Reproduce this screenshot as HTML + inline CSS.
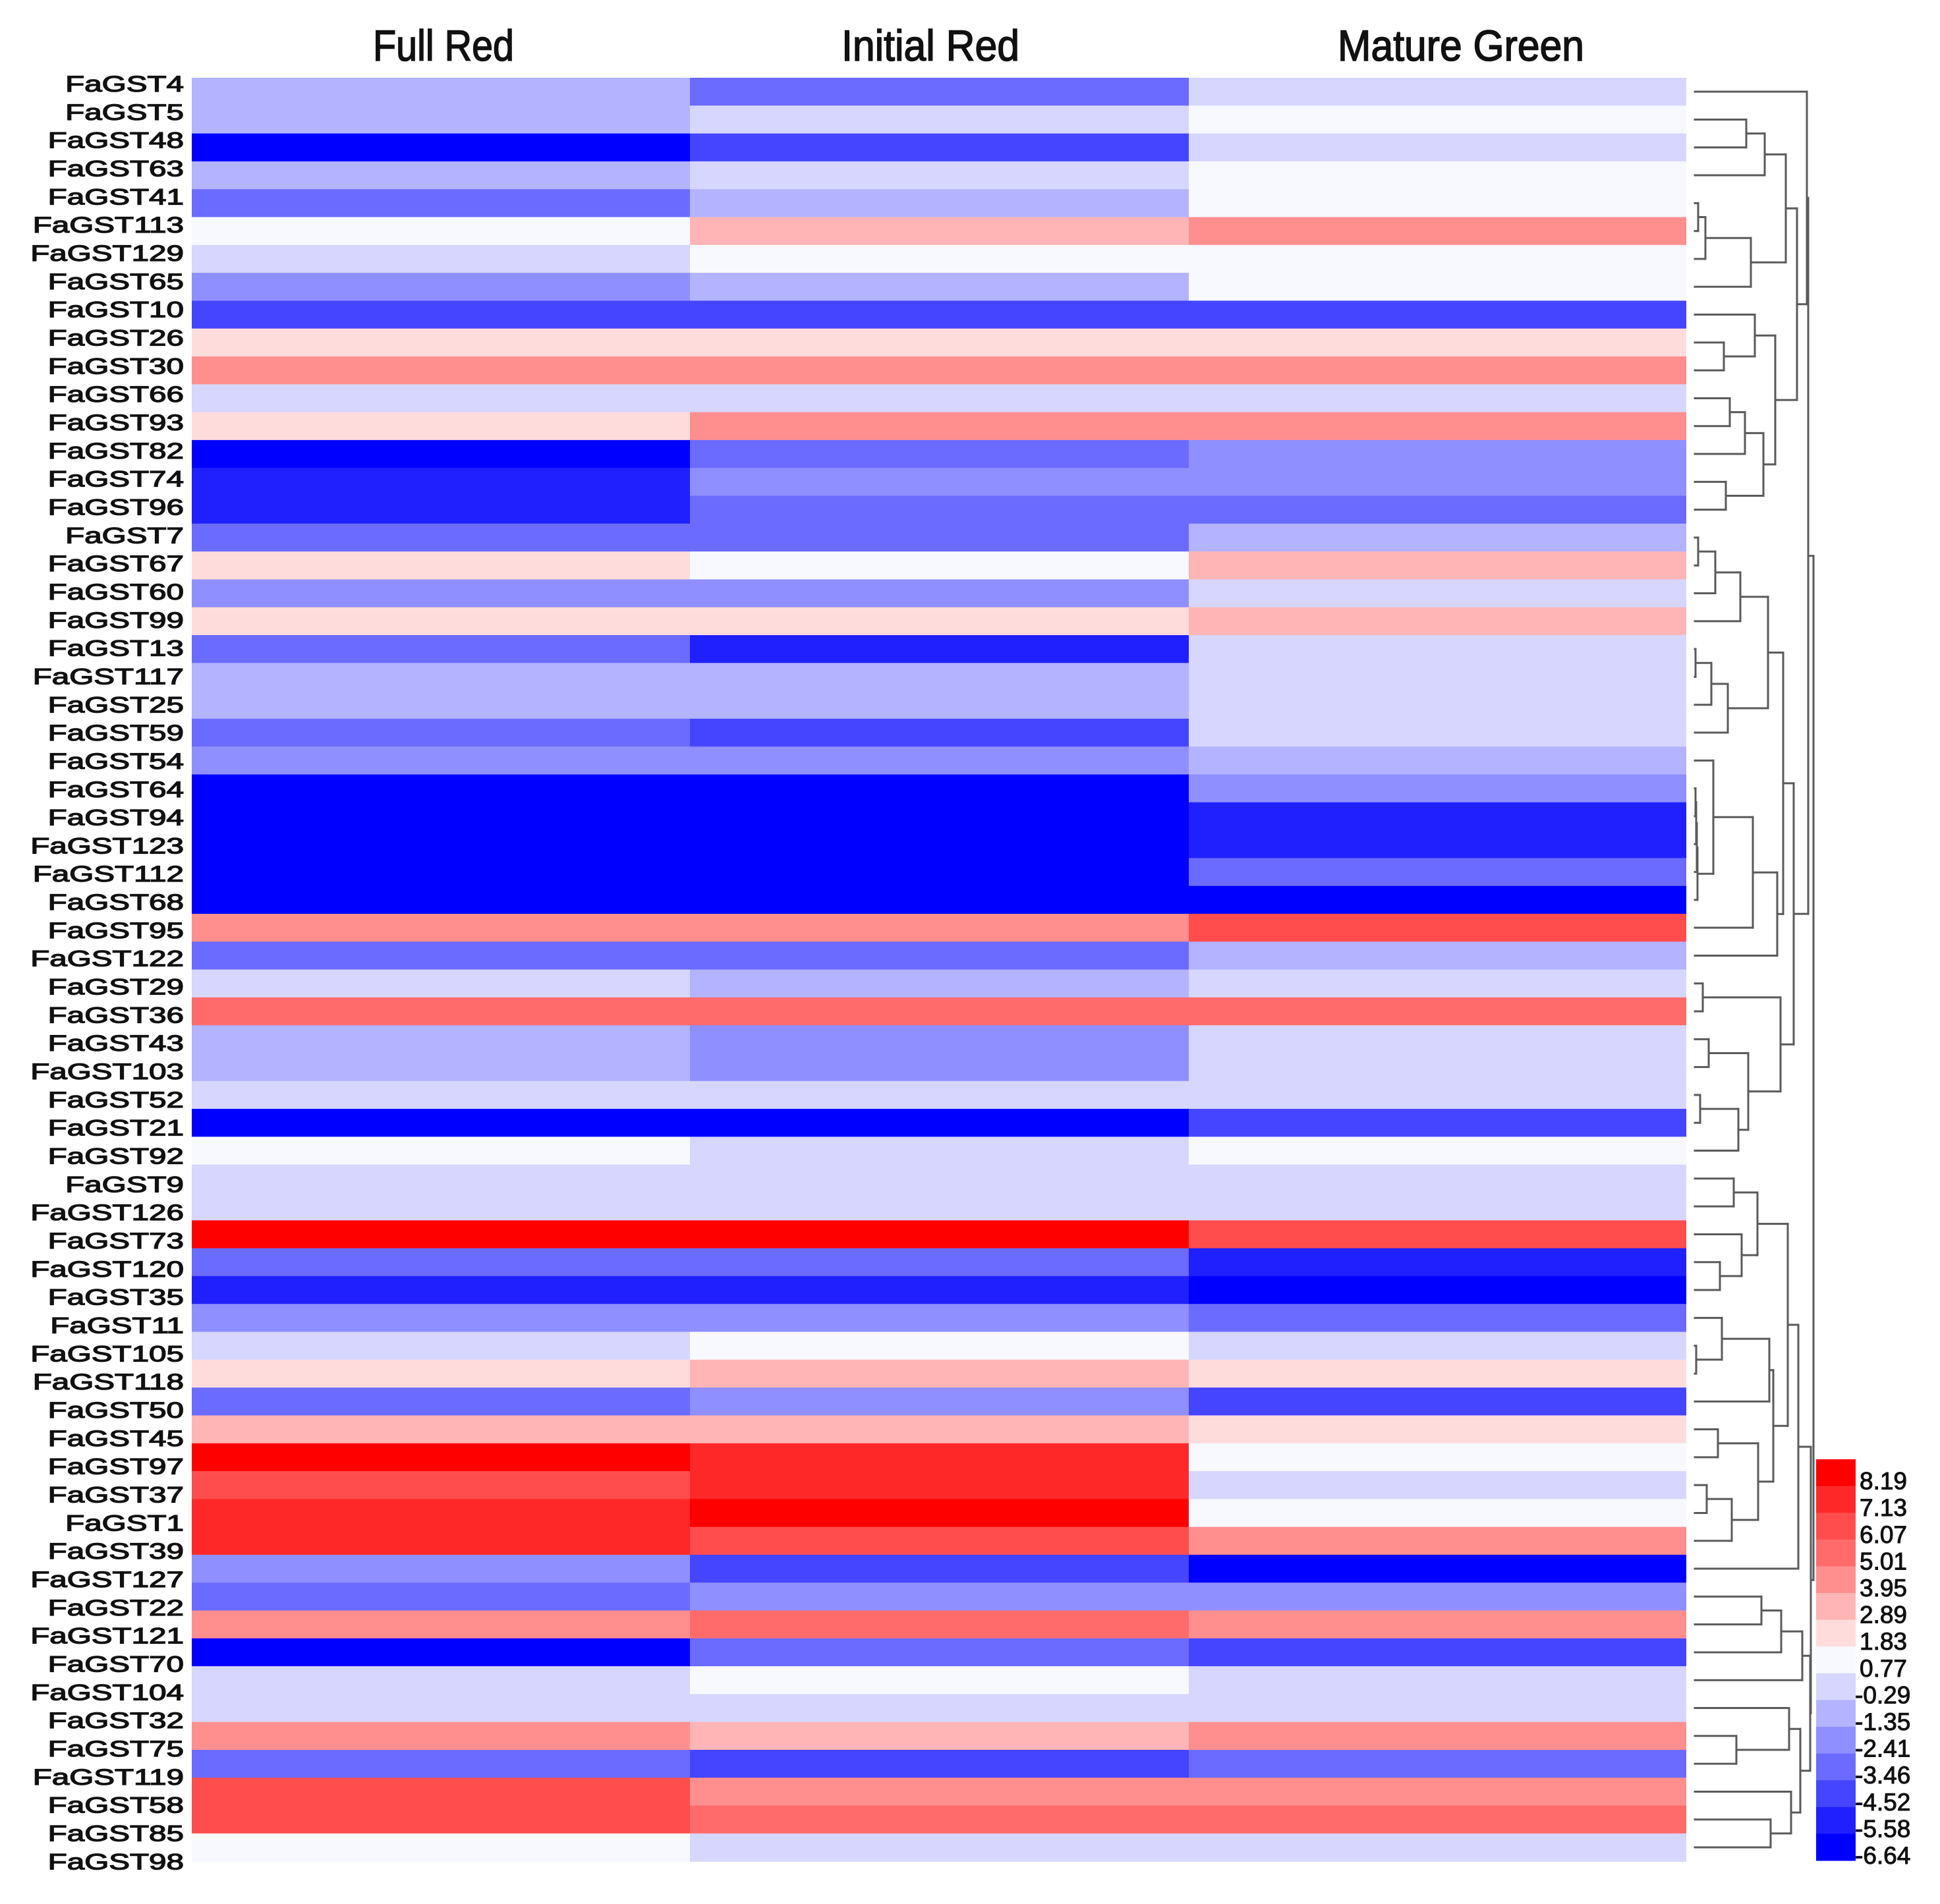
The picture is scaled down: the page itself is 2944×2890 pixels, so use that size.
<!DOCTYPE html>
<html><head><meta charset="utf-8"><style>
html,body{margin:0;padding:0;background:#fff;}
svg{display:block;}
text{font-family:"Liberation Sans",sans-serif;fill:#111;}
</style></head>
<body>
<div id="wrap" style="width:2944px;height:2890px;"></div>
<script>
var genes = ["FaGST4","FaGST5","FaGST48","FaGST63","FaGST41","FaGST113","FaGST129","FaGST65","FaGST10","FaGST26","FaGST30","FaGST66","FaGST93","FaGST82","FaGST74","FaGST96","FaGST7","FaGST67","FaGST60","FaGST99","FaGST13","FaGST117","FaGST25","FaGST59","FaGST54","FaGST64","FaGST94","FaGST123","FaGST112","FaGST68","FaGST95","FaGST122","FaGST29","FaGST36","FaGST43","FaGST103","FaGST52","FaGST21","FaGST92","FaGST9","FaGST126","FaGST73","FaGST120","FaGST35","FaGST11","FaGST105","FaGST118","FaGST50","FaGST45","FaGST97","FaGST37","FaGST1","FaGST39","FaGST127","FaGST22","FaGST121","FaGST70","FaGST104","FaGST32","FaGST75","FaGST119","FaGST58","FaGST85","FaGST98"];
var stages = ["Full Red","Initial Red","Mature Green"];
var fullRed = [-1.35,-1.35,-6.64,-1.35,-3.46,0.77,-0.29,-2.41,-4.52,1.83,3.95,-0.29,1.83,-6.64,-5.58,-5.58,-3.46,1.83,-2.41,1.83,-3.46,-1.35,-1.35,-3.46,-2.41,-6.64,-6.64,-6.64,-6.64,-6.64,3.95,-3.46,-0.29,5.01,-1.35,-1.35,-0.29,-6.64,0.77,-0.29,-0.29,8.19,-3.46,-5.58,-2.41,-0.29,1.83,-3.46,2.89,8.19,6.07,7.13,7.13,-2.41,-3.46,3.95,-6.64,-0.29,-0.29,3.95,-3.46,6.07,6.07,0.77];
var initialRed = [-3.46,-0.29,-4.52,-0.29,-1.35,2.89,0.77,-1.35,-4.52,1.83,3.95,-0.29,3.95,-3.46,-2.41,-3.46,-3.46,0.77,-2.41,1.83,-5.58,-1.35,-1.35,-4.52,-2.41,-6.64,-6.64,-6.64,-6.64,-6.64,3.95,-3.46,-1.35,5.01,-2.41,-2.41,-0.29,-6.64,-0.29,-0.29,-0.29,8.19,-3.46,-5.58,-2.41,0.77,2.89,-2.41,2.89,7.13,7.13,8.19,6.07,-4.52,-2.41,5.01,-3.46,0.77,-0.29,2.89,-4.52,3.95,5.01,-0.29];
var matureGreen = [-0.29,0.77,-0.29,0.77,0.77,3.95,0.77,0.77,-4.52,1.83,3.95,-0.29,3.95,-2.41,-2.41,-3.46,-1.35,2.89,-0.29,2.89,-0.29,-0.29,-0.29,-0.29,-1.35,-2.41,-5.58,-5.58,-3.46,-6.64,6.07,-1.35,-0.29,5.01,-0.29,-0.29,-0.29,-4.52,0.77,-0.29,-0.29,6.07,-5.58,-6.64,-3.46,-0.29,1.83,-4.52,1.83,0.77,-0.29,0.77,3.95,-6.64,-2.41,3.95,-4.52,-0.29,-0.29,3.95,-3.46,3.95,5.01,-0.29];
var legendTicks = [8.19,7.13,6.07,5.01,3.95,2.89,1.83,0.77,-0.29,-1.35,-2.41,-3.46,-4.52,-5.58,-6.64];
var clusterTree = [
 [[0,[[[[1,2,78],3,106],[[[4,5,5],6,16],7,85],138],[[8,[9,10,44],91],[[[11,12,53],13,76],[14,15,47],104],122],155],170],
  [[[[[[16,17,5],18,31],19,69],[[[20,21,1],22,25],23,50],111],[[[24,[[[[25,26,1],27,2],28,3],29,4],28],30,88],31,125],134],
   [[32,33,12],[[34,35,21],[[36,37,8],38,66],81],130],150],172],
 [[[[[39,40,59],[41,[42,43,38],71],95],[[[44,[45,46,2],41],47,113],[[48,49,35],[[50,51,18],52,56],96],119],141],53,157],
  [[[[54,55,101],56,131],57,163],[[58,[59,60,63],143],[61,[62,63,115],146],160],175],176],180];

var palette = ["#ff0000","#ff2828","#ff4d4d","#ff6b6b","#ff8f8f","#ffb5b5","#ffdcdc","#f8f8ff","#d6d6ff","#b3b3ff","#8f8fff","#6b6bff","#4545ff","#2020ff","#0000ff"];
var SVGNS = "http://www.w3.org/2000/svg";
var H0 = 118, RH = 42.3, COLX = [291,1047,1804], COLW = [756,757,755];
function yScale(i){ return H0 + i * RH; }
function colorFor(v){
  var k = Math.round((legendTicks[0] - v) / (legendTicks[0] - legendTicks[1]));
  k = Math.max(0, Math.min(palette.length - 1, k));
  return palette[k];
}
function mk(tag, attrs, parent){
  var el = document.createElementNS(SVGNS, tag);
  for (var k in attrs) el.setAttribute(k, String(attrs[k]));
  parent.appendChild(el);
  return el;
}
function init(){
  var wrap = document.getElementById("wrap") || document.body;
  var svg = document.createElementNS(SVGNS, "svg");
  svg.setAttribute("width", "2944");
  svg.setAttribute("height", "2890");
  svg.setAttribute("viewBox", "0 0 2944 2890");
  
  
  wrap.appendChild(svg);
  mk("rect", {x: 0, y: 0, width: 2944, height: 2890, fill: "#fff"}, svg);
  var gT = mk("g", {}, svg), gC = mk("g", {}, svg), gL = mk("g", {}, svg), gD = mk("g", {}, svg), gG = mk("g", {}, svg);
  var titleX = [673, 1412, 2217], titleW = [214, 270, 374];
  stages.forEach(function(s, j){
    var t = mk("text", {x: titleX[j], y: 92, "text-anchor": "middle", "font-size": 66, stroke: "#111", "stroke-width": 1.6, "textLength": titleW[j], "lengthAdjust": "spacingAndGlyphs"}, gT);
    
    
    t.textContent = s;
  });
  [fullRed, initialRed, matureGreen].forEach(function(arr, j){
    arr.forEach(function(v, i){
      var r = mk("rect", {x: COLX[j], y: yScale(i).toFixed(2), width: COLW[j], height: (RH + 0.6).toFixed(2), fill: colorFor(v)}, gC);
      
      
    });
  });
  genes.forEach(function(g, i){
    var by = 139 + i * 42.83;
    var t = mk("text", {x: 0, y: 0, "text-anchor": "end", "font-size": 34, stroke: "#111", "stroke-width": 1.3, transform: "translate(279," + by.toFixed(2) + ") scale(1.4,1)"}, gL);
    
    
    t.textContent = g;
  });
  var LEAFX = 2572;
  function xD(d){ return LEAFX + d; }
  function branch(x1, y1, x2, y2){
    var l = mk("line", {x1: x1, y1: y1, x2: x2, y2: y2, stroke: "#5a5a5a", "stroke-width": 3, "stroke-linecap": "square"}, gD);
    
    
  }
  function drawNode(n){
    if (typeof n === "number") return {x: xD(0), y: yScale(n) + RH / 2};
    var a = drawNode(n[0]), b = drawNode(n[1]);
    var x = xD(n[2]);
    branch(a.x, a.y, x, a.y);
    branch(b.x, b.y, x, b.y);
    branch(x, a.y, x, b.y);
    return {x: x, y: (a.y + b.y) / 2};
  }
  drawNode(clusterTree);
  var LX = 2756, LY = 2215, LW = 60, SH = (2824 - 2215) / legendTicks.length;
  legendTicks.forEach(function(v, k){
    var r = mk("rect", {x: LX, y: (LY + k * SH).toFixed(2), width: LW, height: (SH + 0.5).toFixed(2), fill: colorFor(v)}, gG);
    
    
    var t = mk("text", {x: (v >= 0) ? 2822 : 2815, y: (LY + (k + 1) * SH + 5).toFixed(2), "font-size": 37, stroke: "#111", "stroke-width": 1}, gG);
    
    
    t.textContent = v.toFixed(2);
  });
}
if (document.readyState === "loading") { document.addEventListener("DOMContentLoaded", init); } else { init(); }
</script>
</body></html>
